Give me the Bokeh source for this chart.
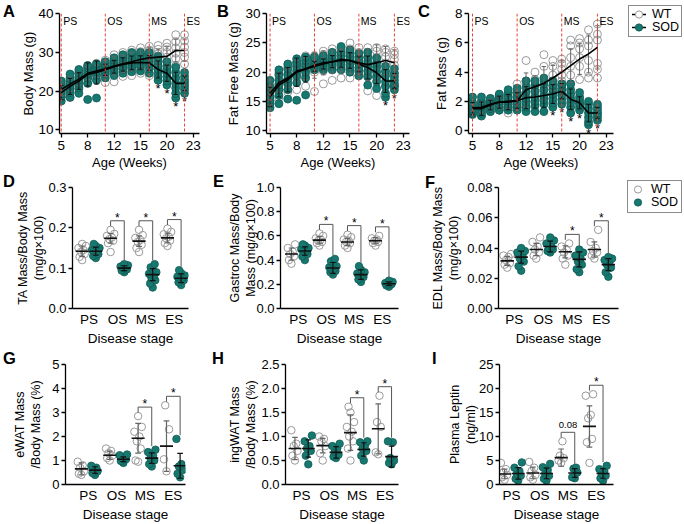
import numpy as np
from bokeh.plotting import figure
from bokeh.layouts import column, row
from bokeh.models import (Range1d, FixedTicker, NumeralTickFormatter, Label,
                          Span, Div)
from bokeh.core.properties import value
from bokeh.embed import file_html
from bokeh.resources import INLINE

# ======================= DATA =======================
stages = ["PS", "OS", "MS", "ES"]
groups = ["WT", "SOD"]

# time course: 15 weekly time points; axis labelled at every third point
week_tick_pos = [0, 3, 6, 9, 12, 15]
week_tick_labels = ["5", "8", "12", "15", "20", "23"]
stage_onset_pos = [0, 5, 10, 14]

# ---- A: Body mass (g)
body_wt_mean = [20.4, 21.8, 23.1, 24.6, 25.2, 25.8, 26.5, 27.1, 27.6, 28.2, 28.6, 28.8, 29.0, 30.5, 30.5]
body_sod_mean = [19.6, 21.2, 22.6, 24.3, 24.8, 25.5, 26.3, 26.9, 27.3, 27.4, 27.3, 25.6, 24.6, 22.0, 22.0]
body_wt = [
    [18.6, 19.4, 20.2, 21.0, 21.8, 22.4],
    [18.3, 20.0, 21.2, 22.0, 22.8, 23.6],
    [20.4, 21.6, 22.6, 23.6, 24.4, 25.0],
    [22.0, 23.4, 24.4, 25.2, 25.8, 26.6],
    [23.0, 24.2, 25.2, 26.0, 26.6, 27.2],
    [22.2, 24.6, 25.6, 26.4, 27.2, 28.0],
    [22.4, 25.0, 26.4, 27.4, 28.4, 29.4],
    [23.8, 25.8, 27.0, 28.0, 29.0, 30.0],
    [24.0, 26.2, 27.4, 28.6, 29.6, 30.6],
    [24.6, 26.8, 28.0, 29.2, 30.2, 31.2],
    [24.0, 27.0, 28.4, 29.6, 30.6, 31.6],
    [26.0, 27.6, 28.6, 29.6, 30.8, 31.8],
    [25.2, 27.4, 28.8, 30.0, 31.4, 32.4],
    [26.6, 28.4, 29.8, 31.2, 32.8, 34.6],
    [27.0, 28.8, 30.0, 31.4, 33.0, 34.6],
]
body_sod = [
    [17.4, 18.4, 19.2, 20.0, 20.8, 21.6, 22.6],
    [18.4, 19.6, 20.6, 21.4, 22.2, 23.2, 24.4],
    [19.4, 20.8, 22.0, 22.8, 23.6, 24.6, 25.6],
    [17.8, 22.0, 23.4, 24.4, 25.2, 26.0, 26.6],
    [18.2, 22.8, 24.0, 25.0, 25.8, 26.4, 27.0],
    [23.4, 24.4, 25.2, 25.8, 26.4, 27.0, 27.6],
    [24.0, 25.0, 25.8, 26.6, 27.4, 28.0, 28.6],
    [24.6, 25.6, 26.4, 27.2, 28.0, 28.8, 29.4],
    [25.0, 26.0, 26.8, 27.6, 28.4, 29.2, 30.0],
    [25.2, 26.2, 27.0, 27.8, 28.6, 29.4, 30.0],
    [24.6, 25.8, 26.8, 27.6, 28.4, 29.2, 30.0],
    [22.8, 23.8, 24.8, 25.6, 26.6, 27.8, 29.0],
    [21.6, 22.6, 23.6, 24.6, 25.4, 26.4, 27.6],
    [18.2, 19.4, 20.8, 22.0, 23.4, 24.8, 26.2],
    [19.4, 20.4, 21.2, 22.0, 22.8, 23.8, 24.8],
]
body_sig = [11, 12, 13, 14]

# ---- B: Fat free mass (g)
ffm_wt_mean = [16.4, 18.2, 19.0, 20.2, 20.6, 21.2, 21.6, 21.8, 22.0, 22.0, 21.6, 21.3, 21.6, 22.0, 21.6]
ffm_sod_mean = [15.8, 17.8, 18.7, 20.0, 20.5, 21.0, 21.4, 21.8, 22.2, 22.0, 21.4, 20.8, 19.9, 18.5, 18.5]
ffm_wt = [
    [15.0, 15.8, 16.4, 17.0, 17.6, 18.0],
    [15.6, 17.0, 18.0, 18.8, 19.4, 20.0],
    [16.6, 18.0, 18.8, 19.6, 20.4, 21.0],
    [17.0, 19.0, 20.0, 20.8, 21.4, 21.8],
    [17.6, 19.4, 20.4, 21.2, 22.0, 22.8],
    [16.7, 20.0, 21.0, 21.8, 22.4, 22.8],
    [18.0, 20.2, 21.4, 22.2, 23.0, 23.6],
    [18.6, 20.4, 21.6, 22.4, 23.2, 24.0],
    [19.0, 20.6, 21.8, 22.8, 23.6, 24.2],
    [19.0, 20.4, 21.8, 22.8, 24.0, 25.0],
    [19.4, 20.4, 21.4, 22.4, 23.4, 24.2],
    [16.8, 19.6, 21.2, 22.4, 23.4, 24.2],
    [16.0, 19.2, 21.0, 22.6, 23.6, 24.2],
    [17.6, 20.0, 21.6, 22.6, 23.4, 24.0],
    [17.6, 19.8, 21.2, 22.2, 23.0, 23.6],
]
ffm_sod = [
    [13.9, 14.6, 15.2, 15.8, 16.6, 17.4, 18.6],
    [14.6, 16.0, 17.0, 17.8, 18.6, 19.6, 20.4],
    [15.4, 17.0, 18.0, 18.8, 19.6, 20.6, 21.4],
    [15.2, 18.2, 19.4, 20.2, 21.0, 21.6, 22.3],
    [16.1, 19.0, 20.0, 20.8, 21.4, 22.0, 22.6],
    [20.4, 20.8, 21.2, 21.6, 22.0, 22.4, 22.6],
    [20.4, 20.8, 21.2, 21.6, 22.0, 22.4, 22.8],
    [20.4, 21.0, 21.4, 21.8, 22.2, 22.8, 23.4],
    [20.4, 21.2, 21.8, 22.2, 22.8, 23.4, 24.4],
    [20.0, 20.8, 21.4, 22.0, 22.6, 23.2, 23.8],
    [19.4, 20.2, 20.8, 21.4, 22.0, 22.6, 23.2],
    [17.8, 19.2, 20.2, 21.0, 21.8, 22.6, 23.4],
    [17.2, 18.4, 19.2, 20.0, 20.8, 21.6, 22.4],
    [15.7, 16.4, 17.6, 18.4, 19.4, 20.2, 21.0],
    [17.0, 17.6, 18.0, 18.6, 19.2, 19.8, 20.6],
]
ffm_sig = [13, 14]

# ---- C: Fat mass (g)
fm_wt_mean = [1.55, 1.6, 1.8, 1.95, 2.0, 2.05, 2.8, 3.0, 3.25, 3.6, 4.0, 4.45, 4.9, 5.25, 5.7]
fm_sod_mean = [1.5, 1.5, 1.75, 1.95, 1.95, 2.05, 2.25, 2.3, 2.4, 2.5, 2.7, 2.15, 1.9, 1.2, 1.2]
fm_wt = [
    [1.3, 1.4, 1.5, 1.6, 1.7, 1.9],
    [1.0, 1.3, 1.5, 1.7, 1.9, 2.0],
    [1.3, 1.5, 1.7, 1.9, 2.0, 2.2],
    [1.4, 1.6, 1.9, 2.1, 2.2, 2.3],
    [1.2, 1.6, 1.9, 2.1, 2.3, 2.5],
    [1.5, 1.7, 1.9, 2.2, 2.6, 3.2],
    [1.6, 2.0, 2.4, 2.9, 3.4, 4.8],
    [2.0, 2.3, 2.7, 3.1, 3.5, 4.0],
    [2.2, 2.6, 3.0, 3.4, 4.4, 5.2],
    [2.5, 3.0, 3.4, 3.8, 4.4, 4.8],
    [2.8, 3.4, 3.8, 4.2, 4.6, 4.9],
    [3.2, 3.8, 4.4, 5.0, 5.8, 6.2],
    [3.5, 4.4, 5.0, 5.6, 6.0, 6.3],
    [3.6, 4.0, 4.8, 5.8, 6.2, 6.9],
    [3.6, 4.2, 4.6, 6.2, 6.6, 7.3],
]
fm_sod = [
    [1.1, 1.2, 1.4, 1.5, 1.7, 1.9, 2.3],
    [1.0, 1.2, 1.4, 1.6, 1.8, 2.0, 2.3],
    [1.3, 1.5, 1.7, 1.9, 2.0, 2.1, 2.2],
    [1.4, 1.6, 1.8, 2.0, 2.2, 2.4, 2.5],
    [1.4, 1.6, 1.8, 2.0, 2.3, 2.6, 2.8],
    [1.4, 1.6, 1.8, 2.0, 2.3, 2.6, 2.9],
    [1.3, 1.6, 1.9, 2.2, 2.6, 3.0, 3.4],
    [1.3, 1.7, 2.0, 2.3, 2.7, 3.1, 3.4],
    [1.3, 1.8, 2.1, 2.4, 2.8, 3.2, 3.6],
    [1.6, 1.9, 2.2, 2.5, 2.8, 3.1, 3.4],
    [1.8, 2.1, 2.4, 2.7, 2.9, 3.1, 3.2],
    [1.2, 1.6, 1.9, 2.2, 2.5, 2.8, 3.2],
    [1.4, 1.6, 1.8, 1.9, 2.1, 2.3, 2.6],
    [0.4, 0.6, 0.9, 1.2, 1.5, 1.8, 2.0],
    [0.7, 0.9, 1.1, 1.2, 1.4, 1.6, 1.8],
]
fm_sig = [9, 10, 11, 12, 13, 14]

# ---- D: TA mass / body mass (mg/g x100)
ta_wt = [[0.120, 0.128, 0.135, 0.140, 0.145, 0.150, 0.155, 0.160],
         [0.140, 0.162, 0.168, 0.172, 0.176, 0.180, 0.185, 0.195],
         [0.140, 0.150, 0.158, 0.165, 0.170, 0.175, 0.182, 0.195],
         [0.155, 0.162, 0.168, 0.174, 0.178, 0.184, 0.190, 0.198]]
ta_sod = [[0.125, 0.130, 0.135, 0.140, 0.142, 0.145, 0.150, 0.155, 0.160],
          [0.090, 0.094, 0.097, 0.100, 0.102, 0.104, 0.107, 0.110],
          [0.052, 0.062, 0.070, 0.076, 0.082, 0.086, 0.090, 0.096, 0.102, 0.110],
          [0.058, 0.065, 0.070, 0.073, 0.076, 0.079, 0.082, 0.088, 0.095]]
ta_wt_mean = [0.142, 0.174, 0.167, 0.175]
ta_wt_sd = [0.013, 0.012, 0.013, 0.012]
ta_sod_mean = [0.142, 0.100, 0.084, 0.075]
ta_sod_sd = [0.010, 0.006, 0.015, 0.011]
ta_sig = {"OS": "*", "MS": "*", "ES": "*"}

# ---- E: Gastroc mass / body mass
gas_wt = [[0.37, 0.40, 0.43, 0.45, 0.47, 0.50, 0.53],
          [0.52, 0.54, 0.55, 0.56, 0.57, 0.58, 0.60, 0.62],
          [0.50, 0.52, 0.54, 0.55, 0.56, 0.57, 0.59, 0.61],
          [0.52, 0.54, 0.55, 0.56, 0.57, 0.58, 0.60]]
gas_sod = [[0.40, 0.43, 0.45, 0.47, 0.48, 0.49, 0.50, 0.52, 0.53],
           [0.28, 0.30, 0.31, 0.32, 0.33, 0.34, 0.35, 0.37, 0.39, 0.41],
           [0.22, 0.24, 0.26, 0.27, 0.28, 0.29, 0.30, 0.32, 0.35],
           [0.18, 0.19, 0.20, 0.20, 0.21, 0.21, 0.22, 0.23]]
gas_wt_mean = [0.45, 0.565, 0.55, 0.56]
gas_wt_sd = [0.05, 0.03, 0.03, 0.025]
gas_sod_mean = [0.475, 0.335, 0.28, 0.205]
gas_sod_sd = [0.035, 0.045, 0.04, 0.015]
gas_sig = {"OS": "*", "MS": "*", "ES": "*"}

# ---- F: EDL mass / body mass
edl_wt = [[0.027, 0.029, 0.030, 0.032, 0.034, 0.035, 0.036],
          [0.033, 0.035, 0.037, 0.039, 0.041, 0.044, 0.047],
          [0.029, 0.033, 0.035, 0.037, 0.039, 0.041, 0.043],
          [0.033, 0.035, 0.037, 0.038, 0.040, 0.044, 0.052]]
edl_sod = [[0.025, 0.028, 0.031, 0.033, 0.035, 0.037, 0.038, 0.040],
           [0.037, 0.038, 0.039, 0.040, 0.041, 0.043, 0.045, 0.047],
           [0.024, 0.026, 0.029, 0.031, 0.033, 0.035, 0.037, 0.039],
           [0.021, 0.024, 0.027, 0.029, 0.031, 0.032, 0.033, 0.034]]
edl_wt_mean = [0.0315, 0.039, 0.0375, 0.039]
edl_wt_sd = [0.003, 0.004, 0.004, 0.005]
edl_sod_mean = [0.034, 0.041, 0.0325, 0.029]
edl_sod_sd = [0.004, 0.0035, 0.005, 0.004]
edl_sig = {"MS": "*", "ES": "*"}

# ---- G: eWAT mass / body mass (%)
ewat_wt = [[0.40, 0.45, 0.55, 0.70, 0.80, 0.95],
           [1.00, 1.10, 1.20, 1.30, 1.40, 1.50],
           [0.95, 1.00, 1.50, 1.80, 2.00, 2.20, 2.40, 2.85],
           [0.55, 1.05, 2.30, 3.30]]
ewat_sod = [[0.40, 0.48, 0.55, 0.62, 0.70, 0.78],
            [0.90, 0.98, 1.05, 1.10, 1.15, 1.22, 1.25],
            [0.75, 0.85, 1.00, 1.10, 1.20, 1.35, 1.45],
            [0.30, 0.45, 0.60, 0.75, 0.85, 1.90]]
ewat_wt_mean = [0.65, 1.22, 1.93, 1.6]
ewat_wt_sd = [0.25, 0.17, 0.62, 1.05]
ewat_sod_mean = [0.6, 1.05, 1.1, 0.78]
ewat_sod_sd = [0.14, 0.10, 0.22, 0.52]
ewat_sig = {"MS": "*", "ES": "*"}

# ---- H: ingWAT mass / body mass (%)
iwat_wt = [[0.50, 0.60, 0.70, 0.80, 0.85, 1.13],
           [0.50, 0.65, 0.80, 0.90, 0.95, 1.00],
           [0.50, 0.75, 0.90, 1.00, 1.10, 1.20, 1.30, 1.50, 1.62],
           [0.63, 0.67, 1.20, 1.30, 1.85]]
iwat_sod = [[0.42, 0.60, 0.70, 0.75, 0.80, 0.90, 1.02],
            [0.55, 0.58, 0.62, 0.68, 0.75, 0.80, 0.85],
            [0.50, 0.60, 0.70, 0.75, 0.82, 0.88, 0.90],
            [0.42, 0.45, 0.50, 0.55, 0.88, 0.90]]
iwat_wt_mean = [0.75, 0.81, 1.08, 1.16]
iwat_wt_sd = [0.23, 0.15, 0.37, 0.52]
iwat_sod_mean = [0.75, 0.67, 0.73, 0.58]
iwat_sod_sd = [0.18, 0.12, 0.14, 0.22]
iwat_sig = {"MS": "*", "ES": "*"}

# ---- I: Plasma leptin (ng/ml)
lep_wt = [[1.0, 1.5, 2.0, 2.5, 3.2, 4.5],
          [1.0, 1.5, 2.0, 2.8, 3.5, 4.7],
          [4.5, 5.0, 5.5, 6.0, 9.0],
          [4.5, 8.8, 9.5, 13.8, 14.5, 18.5, 18.8]]
lep_sod = [[0.8, 1.2, 1.8, 2.2, 2.8, 3.5, 4.6],
           [0.8, 1.2, 1.8, 2.3, 3.0, 3.6, 4.3],
           [1.3, 1.5, 2.5, 3.3, 3.5],
           [0.8, 1.3, 1.8, 2.3, 2.8, 3.2, 3.9]]
lep_wt_mean = [2.2, 2.4, 5.6, 12.1]
lep_wt_sd = [1.0, 1.2, 1.8, 4.3]
lep_sod_mean = [2.3, 2.3, 2.4, 2.3]
lep_sod_sd = [1.2, 1.1, 0.9, 1.0]
lep_sig = {"MS": "0.08", "ES": "*"}

# ======================= STYLE =======================
FONT = "Liberation Sans"
TEAL = "#17786f"
TEAL_EDGE = "#0f5c55"
WT_EDGE = "#9a9a9a"
WT_BAR = "#666666"
RED = "#e8403a"
SPREAD = [0.0, -0.09, 0.09, -0.045, 0.045, -0.13, 0.13, 0.0, -0.07, 0.07]
GOFF = 0.24


def make_fig(w, h, lb, rb, tb, bb, xr, yr):
    p = figure(width=w, height=h, x_range=Range1d(*xr), y_range=Range1d(*yr),
               output_backend="svg", toolbar_location=None,
               min_border_left=lb, min_border_right=rb,
               min_border_top=tb, min_border_bottom=bb)
    p.outline_line_color = None
    p.grid.visible = False
    p.background_fill_color = "white"
    p.border_fill_color = None
    for ax in (p.xaxis[0], p.yaxis[0]):
        ax.axis_line_color = "black"
        ax.axis_line_width = 1.3
        ax.major_tick_line_color = "black"
        ax.major_tick_line_width = 1.3
        ax.major_tick_out = 4
        ax.major_tick_in = 0
        ax.minor_tick_line_color = None
        ax.major_label_text_font = FONT
        ax.axis_label_text_font = FONT
        ax.axis_label_text_font_style = "normal"
        ax.major_label_text_color = "black"
        ax.axis_label_text_color = "black"
        ax.major_label_standoff = 2
        ax.axis_label_standoff = 2
    return p


def letter(txt, pl, pt):
    return Div(text=txt, width=22, height=22, margin=(0, -22, 0, 0),
               styles={"font-family": FONT, "font-size": "16.5px", "font-weight": "bold",
                       "line-height": "0.8", "padding-left": f"{pl}px", "padding-top": f"{pt}px",
                       "color": "black", "position": "relative", "z-index": "10",
                       "overflow": "visible", "box-sizing": "border-box"})


def legend_div(with_line, left, top, w, h):
    rows_html = ""
    for grp, fill, edge in zip(groups, ["white", TEAL], [WT_EDGE, TEAL_EDGE]):
        line = ('<line x1="0" y1="6.5" x2="14" y2="6.5" stroke="black" stroke-width="1.5"/>'
                if with_line else "")
        rows_html += (
            '<div style="display:flex;align-items:center;height:13px">'
            f'<svg width="14" height="13" style="flex:none">{line}'
            f'<circle cx="7" cy="6.5" r="3.6" fill="{fill}" stroke="{edge}" stroke-width="1"/></svg>'
            f'<span style="margin-left:6px">{grp}</span></div>')
    html = (f'<div style="width:{w}px;height:{h}px;border:1px solid #8c8c8c;background:white;'
            f'box-sizing:border-box;padding:2px 0 0 3px;font-family:{FONT};font-size:12.5px;'
            f'line-height:13px;color:black">{rows_html}</div>')
    return Div(text=html, width=684, height=top + h + 2, margin=(0, -684, 0, 0),
               styles={"padding-left": f"{left}px", "padding-top": f"{top}px",
                       "position": "relative", "z-index": "10", "box-sizing": "border-box",
                       "overflow": "visible"})


def time_panel(p, wt, sod, wt_mean, sod_mean, sig, yticks, ylab, ystand):
    ytop = p.y_range.end
    for pos, st in zip(stage_onset_pos, stages):
        p.add_layout(Span(location=pos, dimension="height", line_color=RED,
                          line_dash="3 2", line_width=1))
        p.add_layout(Label(x=pos, y=ytop, x_offset=2, text=st, text_font=FONT,
                           text_font_size="10.5px", text_baseline="top", y_offset=-1,
                           text_color="black"))
    n = len(wt_mean)
    idx = list(range(n))
    wx = [i for i, c in enumerate(wt) for v in c]
    wy = [v for c in wt for v in c]
    sx = [i for i, c in enumerate(sod) for v in c]
    sy = [v for c in sod for v in c]
    p.scatter(wx, wy, size=8, marker="circle", fill_color=None,
              line_color=WT_EDGE, line_width=1)
    p.scatter(sx, sy, size=8, marker="circle", fill_color=TEAL,
              line_color=TEAL_EDGE, line_width=0.8)
    for pts, mean, col in ((wt, wt_mean, WT_BAR), (sod, sod_mean, "#111111")):
        sd = [float(np.std(c, ddof=1)) for c in pts]
        lo = [m - s for m, s in zip(mean, sd)]
        hi = [m + s for m, s in zip(mean, sd)]
        p.segment(idx, lo, idx, hi, line_color=col, line_width=1)
        p.segment([i - 0.25 for i in idx], lo, [i + 0.25 for i in idx], lo, line_color=col, line_width=1)
        p.segment([i - 0.25 for i in idx], hi, [i + 0.25 for i in idx], hi, line_color=col, line_width=1)
    p.line(idx, wt_mean, line_color="black", line_width=1.6)
    p.line(idx, sod_mean, line_color="black", line_width=1.6)
    yspan = p.y_range.end - p.y_range.start
    sty = [min(sod[i]) - 0.045 * yspan for i in sig]
    p.text(list(sig), sty, text=["*"] * len(sig), text_font=value(FONT), text_font_size="13px",
           text_align="center", text_baseline="middle", y_offset=3, text_color="black")
    p.xaxis[0].ticker = FixedTicker(ticks=week_tick_pos)
    p.xaxis[0].major_label_overrides = {k: v for k, v in zip(week_tick_pos, week_tick_labels)}
    p.xaxis[0].axis_label = "Age (Weeks)"
    p.xaxis[0].major_label_standoff = 3
    p.yaxis[0].ticker = FixedTicker(ticks=yticks)
    p.yaxis[0].formatter = NumeralTickFormatter(format="0")
    p.yaxis[0].axis_label = ylab
    p.yaxis[0].axis_label_standoff = ystand
    for ax in (p.xaxis[0], p.yaxis[0]):
        ax.major_label_text_font_size = "13.5px"
        ax.axis_label_text_font_size = "13px"


def cat_panel(p, wt, sod, wt_mean, wt_sd, sod_mean, sod_sd, sig, yticks, ylab, fmt, ystand):
    def flat(pts, side):
        xs, ys = [], []
        for i, c in enumerate(pts):
            for k, v in enumerate(sorted(c)):
                xs.append(i + 1 + side + SPREAD[k % len(SPREAD)])
                ys.append(v)
        return xs, ys
    wx, wy = flat(wt, -GOFF)
    sx, sy = flat(sod, GOFF)
    p.scatter(wx, wy, size=7.5, marker="circle", fill_color=None,
              line_color=WT_EDGE, line_width=1)
    p.scatter(sx, sy, size=7.5, marker="circle", fill_color=TEAL,
              line_color=TEAL_EDGE, line_width=0.8)
    for side, mean, sd, col in ((-GOFF, wt_mean, wt_sd, WT_BAR), (GOFF, sod_mean, sod_sd, "#111111")):
        xc = [i + 1 + side for i in range(len(mean))]
        lo = [m - s for m, s in zip(mean, sd)]
        hi = [m + s for m, s in zip(mean, sd)]
        p.segment(xc, lo, xc, hi, line_color=col, line_width=1.2)
        p.segment([x - 0.1 for x in xc], lo, [x + 0.1 for x in xc], lo, line_color=col, line_width=1.2)
        p.segment([x - 0.1 for x in xc], hi, [x + 0.1 for x in xc], hi, line_color=col, line_width=1.2)
        p.segment([x - 0.23 for x in xc], mean, [x + 0.23 for x in xc], mean, line_color="#111111", line_width=1.6)
    yspan = p.y_range.end - p.y_range.start
    for st, txt in sig.items():
        i = stages.index(st)
        c = i + 1
        wtop = max(max(wt[i]), wt_mean[i] + wt_sd[i]) + 0.03 * yspan
        stop = max(max(sod[i]), sod_mean[i] + sod_sd[i]) + 0.03 * yspan
        top = max(wtop, stop) + 0.045 * yspan
        p.line([c - GOFF, c - GOFF, c + GOFF, c + GOFF], [wtop, top, top, stop],
               line_color="#555555", line_width=1)
        fs = "12px" if txt == "*" else "9.5px"
        yo = -3 if txt == "*" else -7
        p.text([c], [top], text=[txt], text_font=value(FONT), text_font_size=fs,
               text_align="center", text_baseline="middle", y_offset=yo, text_color="black")
    p.xaxis[0].ticker = FixedTicker(ticks=[1, 2, 3, 4])
    p.xaxis[0].major_label_overrides = {i + 1: s for i, s in enumerate(stages)}
    p.xaxis[0].major_tick_out = 0
    p.xaxis[0].axis_label = "Disease stage"
    p.yaxis[0].ticker = FixedTicker(ticks=yticks)
    p.yaxis[0].formatter = NumeralTickFormatter(format=fmt)
    p.yaxis[0].axis_label = ylab
    p.yaxis[0].axis_label_standoff = ystand
    p.yaxis[0].axis_label_text_line_height = 1.15
    p.xaxis[0].major_label_text_font_size = "13.5px"
    p.yaxis[0].major_label_text_font_size = "13px"
    p.xaxis[0].axis_label_text_font_size = "13.5px"
    p.yaxis[0].axis_label_text_font_size = "12.5px"
    p.xaxis[0].major_label_standoff = 3
    p.xaxis[0].axis_label_standoff = 1


# ======================= ROW 1 =======================
R1H = 174
pA = make_fig(212, R1H, 59, 13, 13, 41, (-0.2, 15.7), (9.0, 40.1))
time_panel(pA, body_wt, body_sod, body_wt_mean, body_sod_mean, body_sig,
           [10, 20, 30, 40], "Body Mass (g)", -1)

pB = make_fig(202, R1H, 54, 5, 13, 41, (-0.4, 15.7), (9.5, 30.05))
time_panel(pB, ffm_wt, ffm_sod, ffm_wt_mean, ffm_sod_mean, ffm_sig,
           [10, 15, 20, 25, 30], "Fat Free Mass (g)", 1)

pC = make_fig(270, R1H, 54, 71, 13, 41, (-0.45, 15.8), (-0.2, 8.02))
time_panel(pC, fm_wt, fm_sod, fm_wt_mean, fm_sod_mean, fm_sig,
           [0, 2, 4, 6, 8], "Fat Mass (g)", 3)
legC = legend_div(True, 628, 5, 54, 32)

# ======================= ROW 2 =======================
R2H = 174
pD = make_fig(213, R2H, 72, 25, 13, 37, (0.42, 4.5), (0.0, 0.3))
cat_panel(pD, ta_wt, ta_sod, ta_wt_mean, ta_wt_sd, ta_sod_mean, ta_sod_sd, ta_sig,
          [0.0, 0.1, 0.2, 0.3], "TA Mass/Body Mass\n(mg/g\u00d7100)", "0.0", -1)

pE = make_fig(212, R2H, 67, 27, 13, 37, (0.37, 4.58), (0.0, 1.0))
cat_panel(pE, gas_wt, gas_sod, gas_wt_mean, gas_wt_sd, gas_sod_mean, gas_sod_sd, gas_sig,
          [0.0, 0.2, 0.4, 0.6, 0.8, 1.0], "Gastroc Mass/Body\nMass (mg/g\u00d7100)", "0.0", -5)

pF = make_fig(259, R2H, 73, 66, 13, 37, (0.46, 4.59), (0.0, 0.08))
cat_panel(pF, edl_wt, edl_sod, edl_wt_mean, edl_wt_sd, edl_sod_mean, edl_sod_sd, edl_sig,
          [0.0, 0.02, 0.04, 0.06, 0.08], "EDL Mass/Body Mass\n(mg/g\u00d7100)", "0.00", 3)
legF = legend_div(False, 627, 6, 55, 33)

# ======================= ROW 3 =======================
R3H = 176
pG = make_fig(211, R3H, 65, 26, 16, 38, (0.2, 4.43), (0.0, 5.0))
cat_panel(pG, ewat_wt, ewat_sod, ewat_wt_mean, ewat_wt_sd, ewat_sod_mean, ewat_sod_sd, ewat_sig,
          [0, 1, 2, 3, 4, 5], "eWAT Mass\n/Body Mass (%)", "0", 6)

pH = make_fig(216, R3H, 74, 29, 16, 38, (0.42, 4.49), (0.0, 2.5))
cat_panel(pH, iwat_wt, iwat_sod, iwat_wt_mean, iwat_wt_sd, iwat_sod_mean, iwat_sod_sd, iwat_sig,
          [0.0, 0.5, 1.0, 1.5, 2.0, 2.5], "ingWAT Mass\n/Body Mass (%)", "0.0", 0)

pI = make_fig(257, R3H, 72, 71, 16, 38, (0.58, 4.61), (0.0, 25.0))
cat_panel(pI, lep_wt, lep_sod, lep_wt_mean, lep_wt_sd, lep_sod_mean, lep_sod_sd, lep_sig,
          [0, 5, 10, 15, 20, 25], "Plasma Leptin\n(ng/ml)", "0", -2)

layout = column(
    row(legC, letter("A", 3, 4.5), pA, letter("B", 5, 4.5), pB, letter("C", 4, 4.5), pC, spacing=0),
    row(legF, letter("D", 3, 0.5), pD, letter("E", 0, 0.5), pE, letter("F", 0, 2), pF, spacing=0),
    row(letter("G", 3, 3.5), pG, letter("H", 1, 3.5), pH, letter("I", 5, 3.5), pI, spacing=0),
    spacing=0)

open("out.html", "w").write(file_html(layout, INLINE))
